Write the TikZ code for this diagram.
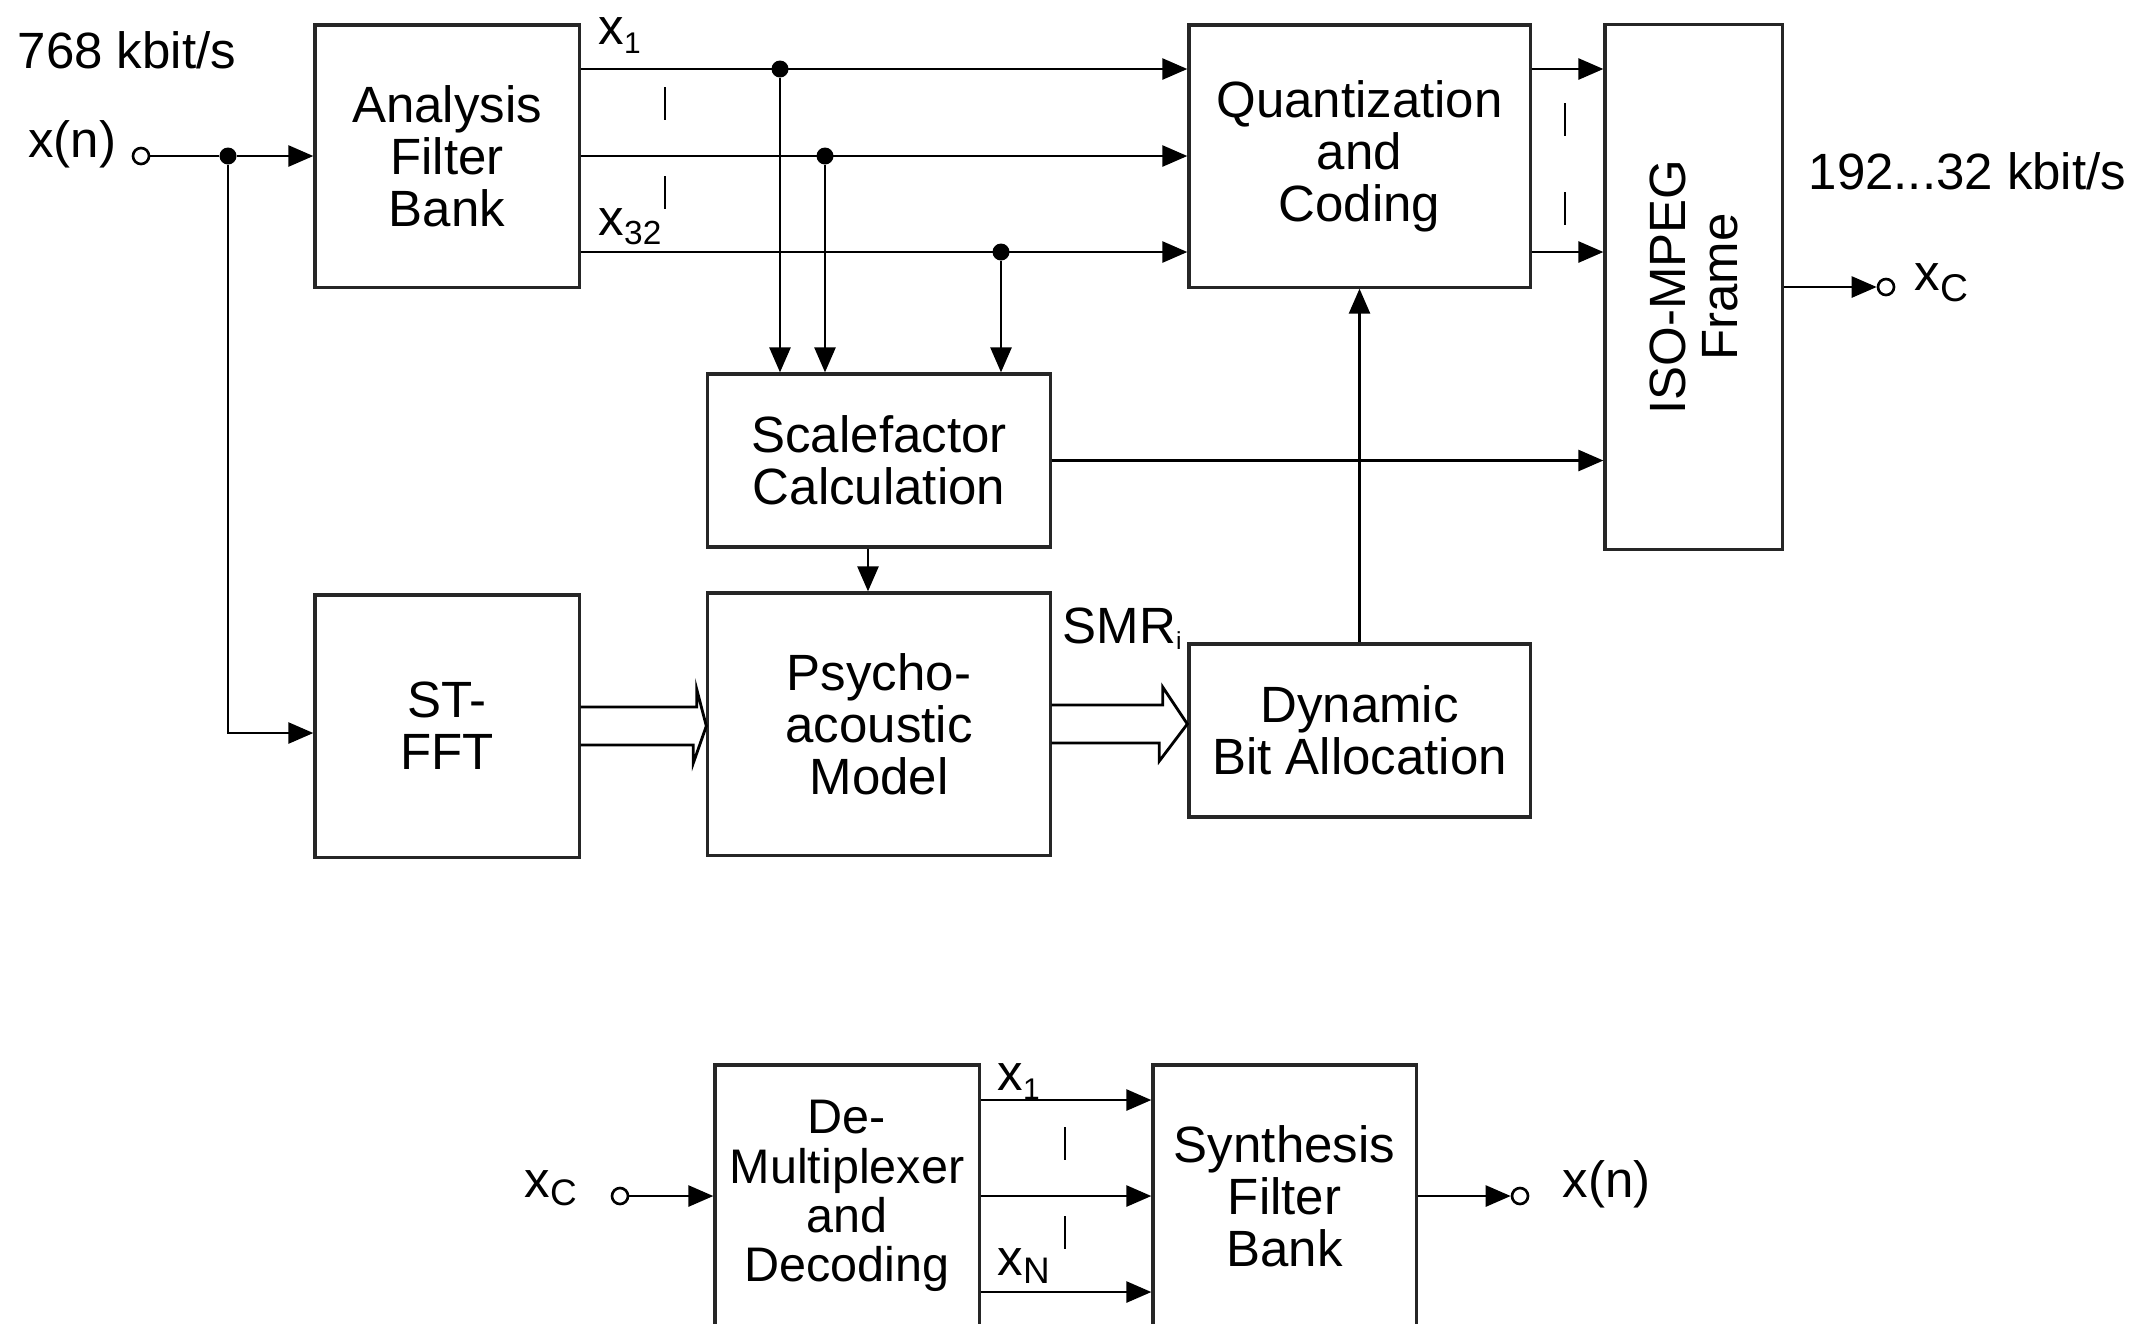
\documentclass[tikz,border=0pt]{standalone}
\usepackage{fontspec}
\setmainfont{Liberation Sans}
\usepackage{tikz}
\usetikzlibrary{arrows.meta, calc}

\newcommand{\lowsub}[3]{\raisebox{-#2pt}{\fontsize{#1}{#1}\selectfont #3}}

\begin{document}
\begin{tikzpicture}[
    x=0.01cm, y=-0.01cm,
    every node/.style={font=\fontsize{14.5}{14.8}\selectfont},
    box/.style={draw=black!85, line width=0.9pt, inner sep=0pt, align=center},
    arr/.style={-{Triangle[length=2.5mm, width=2.1mm]}, line width=0.75pt},
    hollow/.style={line width=0.8pt, line join=miter},
    dot/.style={circle, fill, inner sep=0pt, minimum size=0.17cm},
    term/.style={circle, draw, line width=0.75pt, inner sep=0pt, minimum size=0.16cm, fill=white},
    lbl/.style={inner sep=0pt, anchor=base west},
    bar/.style={line width=0.75pt},
]
\useasboundingbox (0,0) rectangle (2140,1323);

% Encoder blocks
\node[box, minimum width=2.64cm, minimum height=2.62cm] (afb) at (447,156) {Analysis\\Filter\\Bank};
\node[box, minimum width=3.41cm, minimum height=2.62cm] (qc) at (1359.5,156) {Quantization\\and\\Coding};
\node[box, minimum width=1.77cm, minimum height=5.24cm] (iso) at (1693.5,287) {};
\node[rotate=90, align=center, inner sep=0pt] (isotxt) at (iso.center) {ISO-MPEG\\Frame};
\node[box, minimum width=3.42cm, minimum height=1.73cm] (scf) at (879,460.5) {Scalefactor\\Calculation};
\node[box, minimum width=3.42cm, minimum height=2.62cm] (psy) at (879,724) {Psycho-\\acoustic\\Model};
\node[box, minimum width=2.64cm, minimum height=2.62cm] (fft) at (447,726) {ST-\\FFT};
\node[box, minimum width=3.41cm, minimum height=1.73cm] (dba) at (1359.5,730.5) {Dynamic\\Bit Allocation};

% Input
\node[lbl] (ratein) at (17,68) {768 kbit/s};
\node[inner sep=0pt, anchor=base east] (xinlab) at (117,157) {x(n)};
\node[term] (xin) at (141,156) {};
\node[dot] (split) at (228,156) {};
\draw[arr] (xin) -- (split) -- (afb);
\draw[arr] (split) |- ([yshift=-0.07cm]fft.west);

% Subband lines
\node[dot] (d1) at (780,69) {};
\node[dot] (d2) at (825,156) {};
\node[dot] (d3) at (1001,252) {};
\draw[arr] (afb.east |- d1) -- (qc.west |- d1);
\draw[arr] (afb.east |- d2) -- (qc.west |- d2);
\draw[arr] (afb.east |- d3) -- (qc.west |- d3);
\draw[arr] (d1) -- (d1 |- scf.north);
\draw[arr] (d2) -- (d2 |- scf.north);
\draw[arr] (d3) -- (d3 |- scf.north);
\node[lbl] (x1) at (598,44) {x\lowsub{8.5}{2.6}{1}};
\node[lbl] (x32) at (598,235) {x\lowsub{9.5}{2.8}{32}};
\foreach \y in {87,176} \draw[bar] (665,\y) -- ++(0,33);

% To frame
\draw[arr] (qc.east |- d1) -- (iso.west |- d1);
\draw[arr] (qc.east |- d3) -- (iso.west |- d3);
\foreach \y in {103,192} \draw[bar] (1565,\y) -- ++(0,33);
\draw[arr] (scf.east) -- (iso.west |- scf.east);
\draw[arr] ([xshift=-0.11cm]scf.south) -- ([xshift=-0.11cm]psy.north);
\draw[arr] (dba.north) -- (qc.south);

% Wide arrows
\draw[hollow] ([yshift=0.19cm]fft.east) -- ++(116,0) -- ++(0,-18) -- (psy.west |- fft.east)
    -- ++(-13,37) -- ++(0,-18) -- ([yshift=-0.19cm]fft.east);
\draw[hollow] ([yshift=0.19cm]psy.east) -- ++(111,0) -- ++(0,-18) -- (dba.west |- psy.east)
    -- ++(-28,37) -- ++(0,-18) -- ([yshift=-0.19cm]psy.east);
\node[lbl] (smr) at (1062,643) {SMR\lowsub{7}{1.8}{i}};

% Output
\node[term] (xout) at (1886,287) {};
\draw[arr] (iso.east |- xout) -- (xout);
\node[lbl] (rateout) at (1808,189) {192...32 kbit/s};
\node[lbl] (xclab) at (1914,290) {x\lowsub{11}{3.2}{C}};

% Decoder
\node[box, minimum width=2.64cm, minimum height=2.62cm, font=\fontsize{13.8}{14}\selectfont] (demux) at (847,1196) {De-\\Multiplexer\\and\\Decoding};
\node[box, minimum width=2.63cm, minimum height=2.62cm] (synth) at (1284.5,1196) {Synthesis\\Filter\\Bank};
\node[term] (xcin) at (620,1196) {};
\node[lbl] (xcinlab) at (524,1197) {x\lowsub{10.5}{2.5}{C}};
\draw[arr] (xcin) -- (demux);
\foreach \y in {1100,1196,1292} \draw[arr] (demux.east |- 0,\y) -- (synth.west |- 0,\y);
\foreach \y in {1127,1216} \draw[bar] (1065,\y) -- ++(0,33);
\node[lbl] (xb1) at (997,1090) {x\lowsub{8.5}{2.6}{1}};
\node[lbl] (xbn) at (997,1275) {x\lowsub{10.5}{2.4}{N}};
\node[term] (xnout) at (1520,1196) {};
\draw[arr] (synth) -- (xnout);
\node[lbl] (xnlab) at (1562,1197) {x(n)};

\end{tikzpicture}
\end{document}
